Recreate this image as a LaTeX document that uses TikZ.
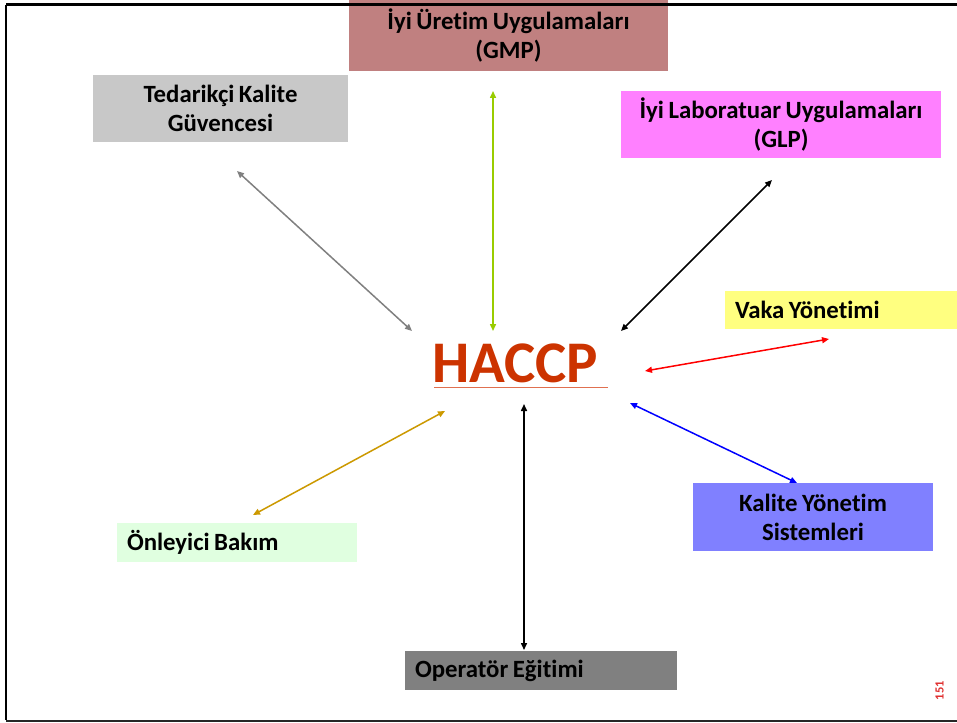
\documentclass[tikz,border=0pt]{standalone}
\usepackage{fontspec}
\setmainfont{Carlito}[Ligatures=NoCommon]
\usetikzlibrary{arrows.meta}
\definecolor{cgmp}{HTML}{C08080}
\definecolor{cted}{HTML}{C8C8C8}
\definecolor{cglp}{HTML}{FF80FF}
\definecolor{cvaka}{HTML}{FFFF80}
\definecolor{ckys}{HTML}{8080FF}
\definecolor{conl}{HTML}{E0FFE0}
\definecolor{cope}{HTML}{808080}
\definecolor{chaccp}{HTML}{CC3300}
\definecolor{cul}{HTML}{E07050}
\definecolor{cgreen}{HTML}{99CC00}
\definecolor{cgold}{HTML}{CC9900}
\definecolor{cgray}{HTML}{808080}
\definecolor{cred}{HTML}{FF0000}
\definecolor{cblue}{HTML}{0000FF}
\definecolor{cnum}{HTML}{E03030}
\DeclareRobustCommand{\tightspace}{\spaceskip=4.5pt\relax}
\tikzset{
  box/.style={anchor=north west, inner sep=0pt, outer sep=0pt,
    font=\fontsize{24.8}{29}\selectfont\bfseries,
    execute at begin node=\tightspace},
  cbox/.style={box, align=center},
  lbox/.style={box, align=left, inner xsep=10pt},
  link/.style={line width=1.5pt, {Triangle[length=7pt,width=6pt]}-{Triangle[length=7pt,width=6pt]}},
}
\begin{document}
\begin{tikzpicture}[x=1pt,y=-1pt]
\useasboundingbox (0,0) rectangle (957,722);
\fill[white] (0,0) rectangle (957,722);
% boxes
\node[cbox, fill=cgmp, text width=319pt, minimum height=71pt] (gmp) at (349,0) {İyi Üretim Uygulamaları\\(GMP)};
\node[cbox, fill=cted, text width=255pt, minimum height=67pt] (ted) at (93,75) {Tedarikçi Kalite\\Güvencesi};
\node[cbox, fill=cglp, text width=320pt, minimum height=67pt] (glp) at (621,91) {İyi Laboratuar Uygulamaları\\(GLP)};
\node[lbox, fill=cvaka, text width=212pt, minimum height=38pt] (vaka) at (725,291) {Vaka Yönetimi};
\node[cbox, fill=ckys, text width=240pt, minimum height=68pt] (kys) at (693,483) {Kalite Yönetim\\Sistemleri};
\node[lbox, fill=conl, text width=220pt, minimum height=39pt] (onl) at (117,523) {Önleyici Bakım};
\node[lbox, fill=cope, text width=252pt, minimum height=39pt] (ope) at (405,651) {Operatör Eğitimi};
% HACCP
\node[anchor=base west, inner sep=0pt, text=chaccp, font=\fontsize{59}{62}\selectfont\bfseries] (haccp) at (432,382) {HACCP};
\coordinate (ul1) at (434,387.5);
\coordinate (ul2) at (608,387.5);
\draw[cul, line width=1pt] (ul1) -- (ul2);
% arrow end points
\coordinate (tedE) at (237,171);
\coordinate (hTed) at (412,331);
\coordinate (gmpE) at (493,91);
\coordinate (hGmp) at (493,331);
\coordinate (glpE) at (772,180);
\coordinate (hGlp) at (621,331);
\coordinate (vakaE) at (829,339);
\coordinate (hVaka) at (645,371);
\coordinate (kysE) at (797,483);
\coordinate (hKys) at (630,403);
\coordinate (onlE) at (253,515);
\coordinate (hOnl) at (445,411);
\coordinate (opeE) at (524,650);
\coordinate (hOpe) at (524,404);
\draw[link, cgray] (tedE) -- (hTed);
\draw[link, cgreen] (gmpE) -- (hGmp);
\draw[link, black] (glpE) -- (hGlp);
\draw[link, cred] (vakaE) -- (hVaka);
\draw[link, cblue] (kysE) -- (hKys);
\draw[link, cgold] (onlE) -- (hOnl);
\draw[link, black] (opeE) -- (hOpe);
% page number
\node[rotate=90, text=cnum, inner sep=0pt, font=\fontsize{12.5}{13}\selectfont\bfseries] (num) at (939.5,690.5) {151};
% frame
\draw[black, line width=2.6pt] (6,5) -- (6,720.3);
\draw[black, line width=3pt] (6,5) -- (957,5);
\draw[black!85, line width=2pt] (6,720.5) -- (957,720.5);
\end{tikzpicture}
\end{document}
